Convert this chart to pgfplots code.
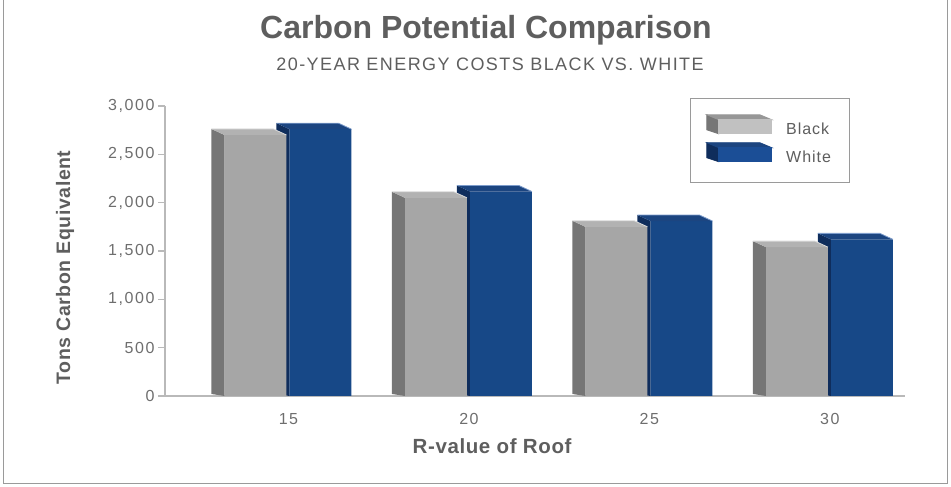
\documentclass[border=0pt]{standalone}
\usepackage{pgfplots}
\pgfplotsset{compat=1.18}
\usepackage{pgfplotstable}
\usepackage{fontspec}
\setmainfont{Liberation Sans}
\newfontfamily\tickfont[LetterSpace=10]{Liberation Sans}
\newfontfamily\labfont[LetterSpace=3]{Liberation Sans}
\newfontfamily\subfont[LetterSpace=8]{Liberation Sans}
\newfontfamily\legfont[LetterSpace=6]{Liberation Sans}

\definecolor{gfront}{HTML}{A6A6A6}
\definecolor{gside}{HTML}{767676}
\definecolor{gtop}{HTML}{B2B2B2}
\definecolor{ghl}{HTML}{DADADA}
\definecolor{bfront}{HTML}{174887}
\definecolor{bside}{HTML}{0F2D5C}
\definecolor{btop}{HTML}{1C4580}
\definecolor{bhl}{HTML}{7D9CCB}
\definecolor{blegfront}{HTML}{1B4E96}
\definecolor{txt}{HTML}{5E5E5E}
\definecolor{ticktxt}{HTML}{6E6E6E}
\definecolor{axln}{HTML}{B9B9B9}
\definecolor{frame}{HTML}{9A9A9A}

% side and top faces of a 3D bar, drawn from the bar's top point
% #2/#3: left/right edge of the front face relative to the category (bp)
\newcommand\defbarmark[6]{%
  \pgfdeclareplotmark{#1}{%
    \pgfmathsetmacro\H{\rawy/3000*290}%
    \pgfpathmoveto{\pgfpoint{#2bp}{0bp}}%
    \pgfpathlineto{\pgfpoint{(#2-13)*1bp}{6bp}}%
    \pgfpathlineto{\pgfpoint{(#2-13)*1bp}{(2-\H)*1bp}}%
    \pgfpathlineto{\pgfpoint{#2bp}{-\H bp}}%
    \pgfpathclose
    \pgfsetfillcolor{#4}\pgfusepath{fill}%
    \pgfpathmoveto{\pgfpoint{#2bp}{0bp}}%
    \pgfpathlineto{\pgfpoint{(#2-13)*1bp}{6bp}}%
    \pgfpathlineto{\pgfpoint{(#3-13)*1bp}{6bp}}%
    \pgfpathlineto{\pgfpoint{#3bp}{0bp}}%
    \pgfpathclose
    \pgfsetfillcolor{#5}\pgfusepath{fill}%
    \pgfpathmoveto{\pgfpoint{(#2-13)*1bp}{6bp}}%
    \pgfpathlineto{\pgfpoint{(#3-13)*1bp}{6bp}}%
    \pgfpathlineto{\pgfpoint{#3bp}{0bp}}%
    \pgfsetstrokecolor{#6}\pgfsetlinewidth{0.8bp}\pgfusepath{stroke}%
  }}
\defbarmark{black3d}{-64}{-2}{gside}{gtop}{ghl}
\defbarmark{white3d}{1}{63}{bside}{btop}{bhl}

\pgfplotstableread{
x black white
0 2700 2760
1 2050 2115
2 1750 1810
3 1540 1620
}\carbon

\begin{document}
\begin{tikzpicture}[x=1bp,y=1bp]
\path[use as bounding box] (0,0) rectangle (951,487);
\draw[frame, line width=1bp] (3.5,487) -- (3.5,3.5) -- (947.5,3.5) -- (947.5,487);
\node[anchor=base, text=txt, font=\bfseries\fontsize{32bp}{36bp}\selectfont] at (486,448) {Carbon Potential Comparison};
\node[anchor=base, text=txt, font=\subfont\fontsize{18bp}{20bp}\selectfont] at (490,416) {20-YEAR ENERGY COSTS BLACK VS. WHITE};

\begin{axis}[
    at={(165bp,91bp)}, anchor=south west,
    scale only axis, width=740bp, height=290bp,
    xmin=-0.684, xmax=3.416, ymin=0, ymax=3000,
    clip=false, clip marker paths=true,
    axis x line*=bottom, axis y line*=left,
    axis line style={axln, line width=1.2bp},
    xtick={0,1,2,3}, xticklabels={15,20,25,30},
    xtick style={draw=none},
    ytick={0,500,...,3000},
    scaled y ticks=false,
    /pgf/number format/1000 sep={,},
    /pgf/number format/assume math mode=true,
    tick align=outside, major tick length=7bp,
    ytick style={axln, line width=1.2bp},
    ticklabel style={font=\tickfont\fontsize{16bp}{18bp}\selectfont, text=ticktxt},
    xticklabel style={yshift=-7bp},
    xlabel={R-value of Roof}, ylabel={Tons Carbon Equivalent},
    label style={text=txt},
    xlabel style={at={(rel axis cs:0.442,-0.172)}, anchor=center,
        font=\labfont\bfseries\fontsize{20.5bp}{22bp}\selectfont},
    ylabel style={at={(rel axis cs:-0.135,0.443)}, anchor=center,
        font=\labfont\bfseries\fontsize{19.5bp}{22bp}\selectfont},
    legend style={at={(0.7095,1.0276)}, anchor=north west, draw=frame, line width=0.8bp,
        fill=white, inner xsep=16bp, inner ysep=16bp, row sep=4bp,
        font=\legfont\fontsize{16bp}{18bp}\selectfont, text=txt,
        /tikz/every odd column/.append style={column sep=12bp}},
    legend cell align=left,
]
\addlegendimage{legend image code/.code={
    \fill[gside] (0bp,0bp) -- (0bp,15bp) -- (12bp,10bp) -- (12bp,-4bp) -- cycle;
    \fill[gtop!85!black] (0bp,15bp) -- (53bp,15bp) -- (65bp,10bp) -- (12bp,10bp) -- cycle;
    \fill[gtop!80!white] (12bp,-4bp) rectangle (65bp,10bp);
}}
\addlegendentry{Black}
\addlegendimage{legend image code/.code={
    \fill[bside] (0bp,0bp) -- (0bp,15bp) -- (12bp,10bp) -- (12bp,-4bp) -- cycle;
    \fill[btop] (0bp,15bp) -- (53bp,15bp) -- (65bp,10bp) -- (12bp,10bp) -- cycle;
    \fill[blegfront] (12bp,-4bp) rectangle (65bp,10bp);
}}
\addlegendentry{White}

% white (blue) first: the black bars stand in front of its side faces
\addplot[ybar, bar width=62bp, bar shift=32bp, fill=bfront, draw=none, forget plot]
    table[x=x, y=white]{\carbon};
\addplot[only marks, mark=white3d, visualization depends on={rawy \as \rawy}, forget plot]
    table[x=x, y=white]{\carbon};
\addplot[ybar, bar width=62bp, bar shift=-33bp, fill=gfront, draw=none, forget plot]
    table[x=x, y=black]{\carbon};
\addplot[only marks, mark=black3d, visualization depends on={rawy \as \rawy}, forget plot]
    table[x=x, y=black]{\carbon};
\end{axis}
\end{tikzpicture}
\end{document}
